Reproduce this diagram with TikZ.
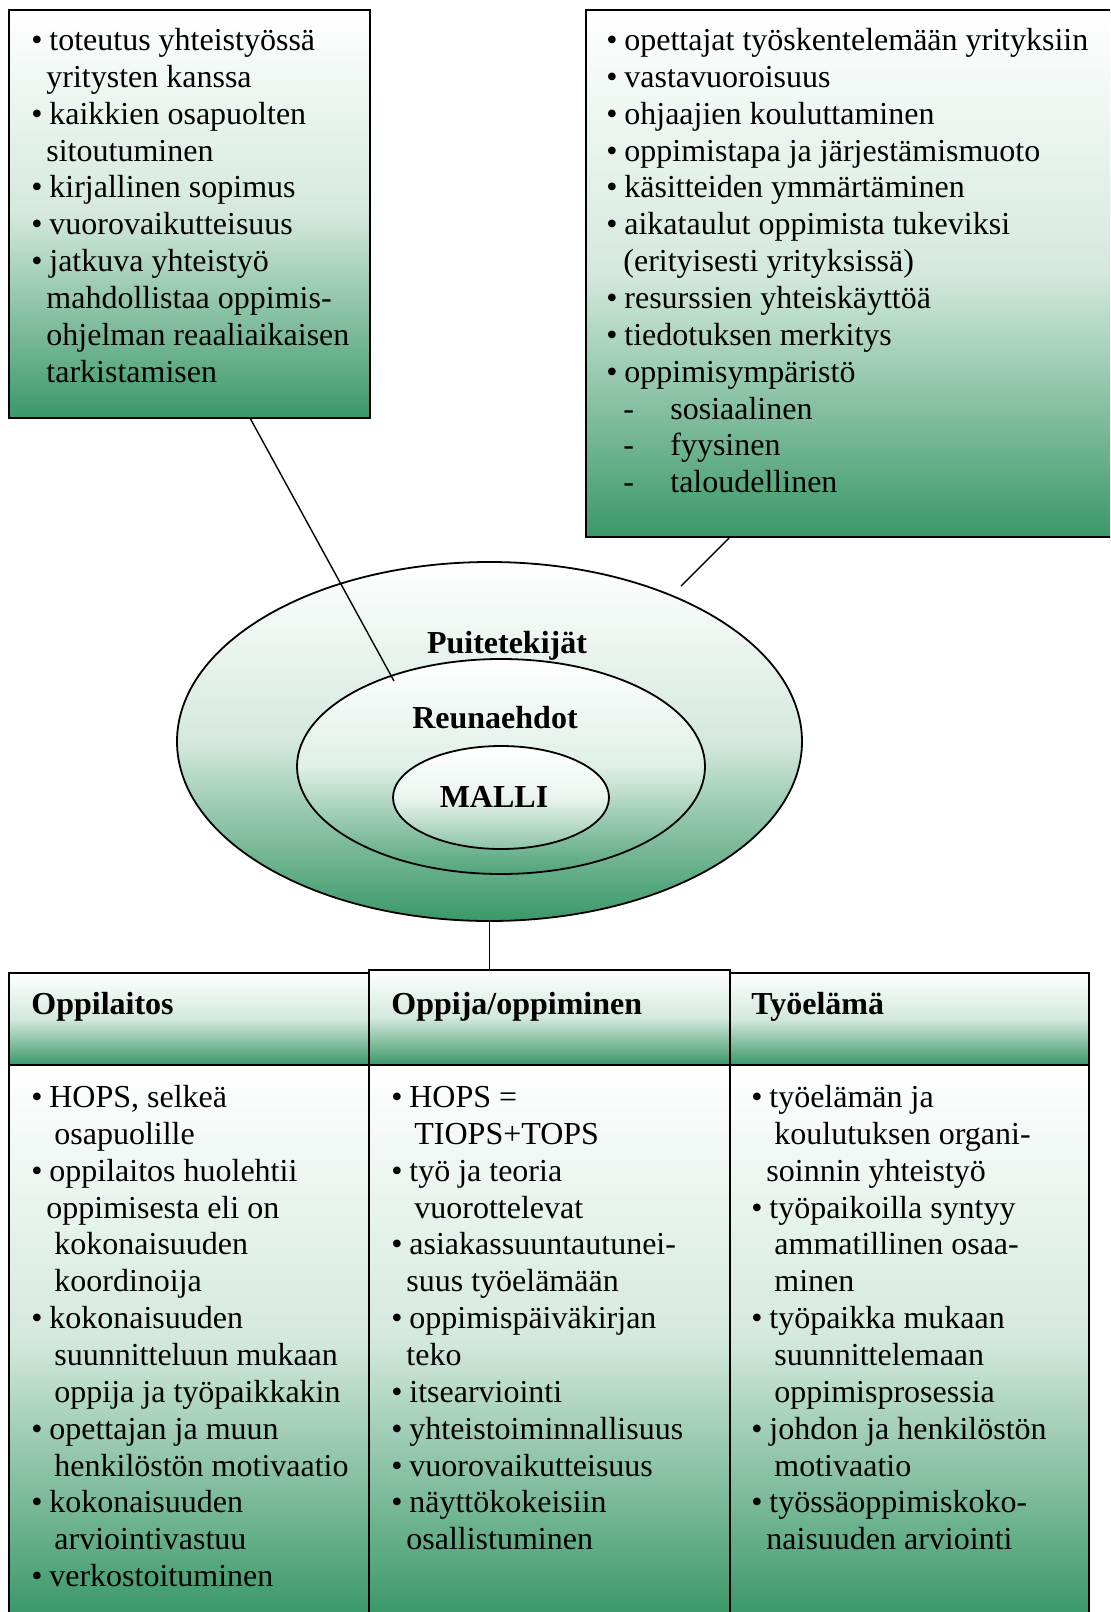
\documentclass[tikz,border=0pt]{standalone}
\usepackage{fontspec}
\setmainfont{Liberation Serif}
\usetikzlibrary{shapes.geometric}
\definecolor{gB}{RGB}{58,152,104}
\newcommand\bu{\makebox[9pt][l]{\textbullet}}
\newcommand\ci[1]{\hspace*{#1pt}}
\newcommand\txtfont{\fontsize{16}{18.43}\selectfont}
\begin{document}
\begin{tikzpicture}[x=0.5pt,y=-0.5pt,
  box/.style={draw=black, line width=1pt, rectangle, inner sep=0pt,
    top color=white, bottom color=gB, middle color=gB!22!white},
  ell/.style={draw=black, line width=0.9pt, ellipse, inner sep=0pt},
  txt/.style={anchor=base west, inner sep=0pt},
  lbl/.style={anchor=base, inner sep=0pt, font=\bfseries\txtfont},
  conn/.style={draw=black, line width=0.7pt}]
\useasboundingbox (0,0) rectangle (1110,1612);
\begin{scope}
\clip (0,0) rectangle (1110,1612);

% top boxes
\node[box, minimum width=180.5pt, minimum height=204pt] (tl) at (189.5,214) {};
\node[box, minimum width=265pt, minimum height=263.5pt] (tr) at (851,273.5) {};

\node[txt] (tltext) at (31,50.5) {\begin{minipage}[t]{175pt}\txtfont
\bu toteutus yhteistyössä\\
\ci{7.5}yritysten kanssa\\
\bu kaikkien osapuolten\\
\ci{7.5}sitoutuminen\\
\bu kirjallinen sopimus\\
\bu vuorovaikutteisuus\\
\bu jatkuva yhteistyö\\
\ci{7.5}mahdollistaa oppimis-\\
\ci{7.5}ohjelman reaaliaikaisen\\
\ci{7.5}tarkistamisen
\end{minipage}};

\node[txt] (trtext) at (606,50.5) {\begin{minipage}[t]{250pt}\txtfont
\bu opettajat työskentelemään yrityksiin\\
\bu vastavuoroisuus\\
\bu ohjaajien kouluttaminen\\
\bu oppimistapa ja järjestämismuoto\\
\bu käsitteiden ymmärtäminen\\
\bu aikataulut oppimista tukeviksi\\
\ci{8.5}(erityisesti yrityksissä)\\
\bu resurssien yhteiskäyttöä\\
\bu tiedotuksen merkitys\\
\bu oppimisympäristö\\
\ci{8.5}\makebox[23.5pt][l]{-}sosiaalinen\\
\ci{8.5}\makebox[23.5pt][l]{-}fyysinen\\
\ci{8.5}\makebox[23.5pt][l]{-}taloudellinen
\end{minipage}};

% ellipses
\node[ell, minimum width=312.5pt, minimum height=179.5pt,
  top color=white, bottom color=gB, middle color=gB!22!white] (outer) at (489.5,741.5) {};
\node[ell, minimum width=204pt, minimum height=107.5pt,
  top color=white, bottom color=gB!88!white, middle color=gB!16!white] (middle) at (501,766.5) {};
\node[ell, minimum width=108pt, minimum height=51.5pt,
  top color=white, bottom color=gB!58!white, middle color=gB!10!white] (inner) at (501,797.5) {};

\node[lbl] (lpuite) at (507,653.5) {Puitetekijät};
\node[lbl] (lreuna) at (495,728.5) {Reunaehdot};
\node[lbl] (lmalli) at (494,807.5) {MALLI};

% connectors
\coordinate (c1a) at (250,418);
\coordinate (c1b) at (394,681);
\coordinate (c2a) at (729,538);
\coordinate (c2b) at (681,586);
\draw[conn] (c1a) -- (c1b);
\draw[conn] (c2a) -- (c2b);

% header boxes
\node[box, minimum width=180pt, minimum height=46pt] (h1) at (189,1019) {};
\node[box, minimum width=179.5pt, minimum height=46pt] (h3) at (909.5,1019) {};
\node[box, minimum width=180.5pt, minimum height=47.5pt] (h2) at (549.5,1017.5) {};
\draw[conn] (outer.south) -- (outer.south |- h2.north);

\node[txt, font=\bfseries\txtfont] (h1t) at (31,1014.5) {Oppilaitos};
\node[txt, font=\bfseries\txtfont] (h2t) at (391,1014.5) {Oppija/oppiminen};
\node[txt, font=\bfseries\txtfont] (h3t) at (751,1014.5) {Työelämä};

% body boxes
\node[box, minimum width=180pt, minimum height=275pt] (b1) at (189,1340) {};
\node[box, minimum width=180.5pt, minimum height=275pt] (b2) at (549.5,1340) {};
\node[box, minimum width=179.5pt, minimum height=275pt] (b3) at (909.5,1340) {};

\node[txt] (b1t) at (31,1107.5) {\begin{minipage}[t]{175pt}\txtfont
\bu HOPS, selkeä\\
\ci{11.5}osapuolille\\
\bu oppilaitos huolehtii\\
\ci{7.5}oppimisesta eli on\\
\ci{11.5}kokonaisuuden\\
\ci{11.5}koordinoija\\
\bu kokonaisuuden\\
\ci{11.5}suunnitteluun mukaan\\
\ci{11.5}oppija ja työpaikkakin\\
\bu opettajan ja muun\\
\ci{11.5}henkilöstön motivaatio\\
\bu kokonaisuuden\\
\ci{11.5}arviointivastuu\\
\bu verkostoituminen
\end{minipage}};

\node[txt] (b2t) at (391,1107.5) {\begin{minipage}[t]{175pt}\txtfont
\bu HOPS =\\
\ci{11.5}TIOPS+TOPS\\
\bu työ ja teoria\\
\ci{11.5}vuorottelevat\\
\bu asiakassuuntautunei-\\
\ci{7.5}suus työelämään\\
\bu oppimispäiväkirjan\\
\ci{7.5}teko\\
\bu itsearviointi\\
\bu yhteistoiminnallisuus\\
\bu vuorovaikutteisuus\\
\bu näyttökokeisiin\\
\ci{7.5}osallistuminen
\end{minipage}};

\node[txt] (b3t) at (751,1107.5) {\begin{minipage}[t]{175pt}\txtfont
\bu työelämän ja\\
\ci{11.5}koulutuksen organi-\\
\ci{7.5}soinnin yhteistyö\\
\bu työpaikoilla syntyy\\
\ci{11.5}ammatillinen osaa-\\
\ci{11.5}minen\\
\bu työpaikka mukaan\\
\ci{11.5}suunnittelemaan\\
\ci{11.5}oppimisprosessia\\
\bu johdon ja henkilöstön\\
\ci{11.5}motivaatio\\
\bu työssäoppimiskoko-\\
\ci{7.5}naisuuden arviointi
\end{minipage}};
\end{scope}
\end{tikzpicture}
\end{document}
